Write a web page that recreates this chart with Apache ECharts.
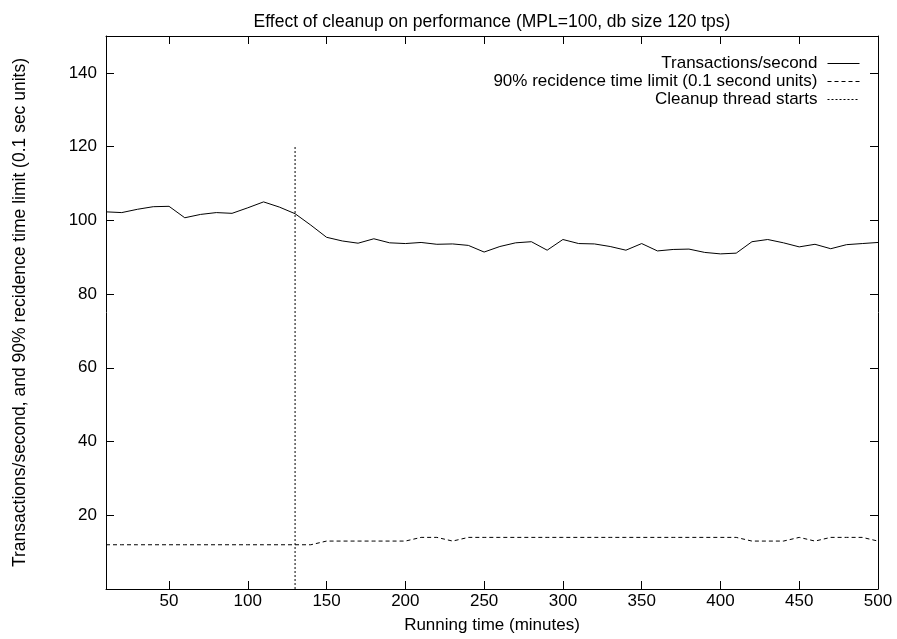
<!DOCTYPE html>
<html>
<head>
<meta charset="utf-8">
<script src="https://cdn.jsdelivr.net/npm/echarts@6/dist/echarts.min.js"></script>
<style>
  html, body { margin: 0; padding: 0; background: #fff; }
  #main { width: 897px; height: 639px; }
</style>
</head>
<body>
<div id="main"></div>
<script>
"use strict";
// running time in minutes, one sample every 10 minutes
let minutes = [10, 20, 30, 40, 50, 60, 70, 80, 90, 100,
  110, 120, 130, 140, 150, 160, 170, 180, 190, 200,
  210, 220, 230, 240, 250, 260, 270, 280, 290, 300,
  310, 320, 330, 340, 350, 360, 370, 380, 390, 400,
  410, 420, 430, 440, 450, 460, 470, 480, 490, 500];
let tps = [102.3, 102.1, 103.0, 103.7, 103.8, 100.7, 101.6, 102.1, 101.9, 103.4,
  105.0, 103.6, 101.8, 98.7, 95.4, 94.4, 93.8, 95.0, 93.9, 93.7,
  94.0, 93.5, 93.6, 93.2, 91.4, 92.9, 93.9, 94.2, 91.9, 94.8,
  93.7, 93.6, 92.9, 91.9, 93.7, 91.7, 92.1, 92.2, 91.3, 90.9,
  91.1, 94.2, 94.8, 93.9, 92.8, 93.5, 92.3, 93.4, 93.7, 94.0];
let residence = [12, 12, 12, 12, 12, 12, 12, 12, 12, 12,
  12, 12, 12, 12, 13, 13, 13, 13, 13, 13,
  14, 14, 13, 14, 14, 14, 14, 14, 14, 14,
  14, 14, 14, 14, 14, 14, 14, 14, 14, 14,
  14, 13, 13, 13, 14, 13, 14, 14, 14, 13];
let cleanupX = [130, 130];
let cleanupY = [0, 120];
let xTicks = [50, 100, 150, 200, 250, 300, 350, 400, 450, 500];
let yTicks = [20, 40, 60, 80, 100, 120, 140];

let names = ['Transactions/second', '90% recidence time limit (0.1 second units)', 'Cleanup thread starts'];
let font = 'Liberation Sans, Arial, Helvetica, sans-serif';

let myChart = echarts.init(document.getElementById('main'));

function zip(xs, ys) {
    let out = [];
    for (let i = 0; i < xs.length; i++) {
        out.push([xs[i], ys[i]]);
    }
    return out;
}

function xAxisDef(pos, labels) {
    return {
        type: 'value', position: pos, min: 10, max: 500,
        axisLine: { show: true, onZero: false, lineStyle: { color: '#000', width: 1 } },
        axisTick: { show: true, inside: true, length: 8, customValues: xTicks, lineStyle: { color: '#000' } },
        axisLabel: { show: labels, customValues: xTicks, color: '#000', fontSize: 17, fontFamily: font, margin: 4 },
        splitLine: { show: false }
    };
}

function yAxisDef(pos, labels) {
    return {
        type: 'value', position: pos, min: 0, max: 150,
        axisLine: { show: true, onZero: false, lineStyle: { color: '#000', width: 1 } },
        axisTick: { show: true, inside: true, length: 8, customValues: yTicks, lineStyle: { color: '#000' } },
        axisLabel: { show: labels, customValues: yTicks, color: '#000', fontSize: 17, fontFamily: font, margin: 9 },
        splitLine: { show: false }
    };
}

let xBottom = xAxisDef('bottom', true);
xBottom.name = 'Running time (minutes)';
xBottom.nameLocation = 'middle';
xBottom.nameGap = 28;
xBottom.nameTextStyle = { color: '#000', fontSize: 17, fontFamily: font };

let yLeft = yAxisDef('left', true);
yLeft.name = 'Transactions/second, and 90% recidence time limit (0.1 sec units)';
yLeft.nameLocation = 'middle';
yLeft.nameGap = 77;
yLeft.nameTextStyle = { color: '#000', fontSize: 17.5, fontFamily: font };

let option = {
    animation: false,
    backgroundColor: '#fff',
    title: {
        text: 'Effect of cleanup on performance (MPL=100, db size 120 tps)',
        left: 487, textAlign: 'center', top: 8,
        textStyle: { color: '#000', fontSize: 17.5, fontWeight: 'normal', fontFamily: font }
    },
    legend: {
        data: names,
        orient: 'vertical',
        align: 'right',
        right: 32, top: 50,
        itemWidth: 32, itemHeight: 16, itemGap: 1,
        itemStyle: { opacity: 0, borderWidth: 0 },
        lineStyle: { width: 1 },
        textStyle: { color: '#000', fontSize: 17, fontFamily: font, lineHeight: 17, padding: [0, 5, 0, 0] }
    },
    grid: { left: 106, right: 19, top: 36, bottom: 47 },
    xAxis: [xBottom, xAxisDef('top', false)],
    yAxis: [yLeft, yAxisDef('right', false)],
    series: [
        {
            name: names[0], type: 'line', data: zip(minutes, tps),
            symbol: 'none', lineStyle: { color: '#000', width: 1, type: 'solid' }, itemStyle: { color: '#000' }
        },
        {
            name: names[1], type: 'line', data: zip(minutes, residence),
            symbol: 'none', lineStyle: { color: '#000', width: 1, type: [4, 3] }, itemStyle: { color: '#000' }
        },
        {
            name: names[2], type: 'line', data: zip(cleanupX, cleanupY),
            symbol: 'none', lineStyle: { color: '#000', width: 1, type: [2, 2] }, itemStyle: { color: '#000' }
        }
    ]
};
myChart.setOption(option);
</script>
</body>
</html>
